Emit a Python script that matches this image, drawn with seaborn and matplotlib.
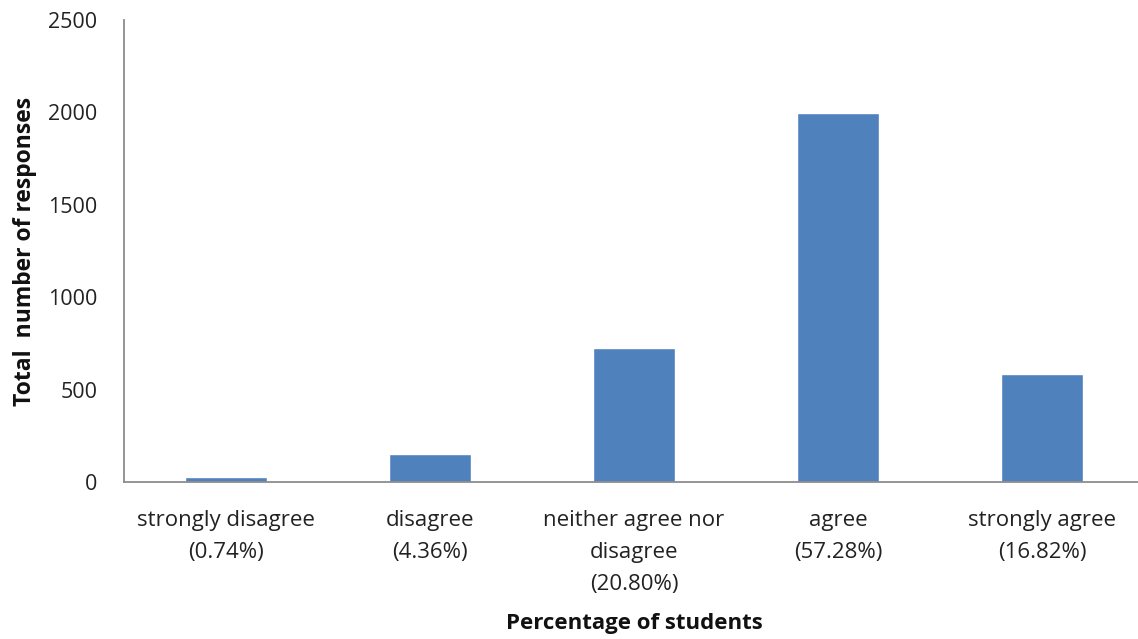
import matplotlib
matplotlib.use("Agg")
import matplotlib.pyplot as plt
import seaborn as sns
import pandas as pd

# Survey responses per answer option
categories = [
    "strongly disagree\n(0.74%)",
    "disagree\n(4.36%)",
    "neither agree nor\ndisagree\n(20.80%)",
    "agree\n(57.28%)",
    "strongly agree\n(16.82%)",
]
responses = [26, 152, 726, 1999, 587]
y_ticks = [0, 500, 1000, 1500, 2000, 2500]

sns.set_theme(style="white")
plt.rcParams["font.family"] = ["Open Sans", "DejaVu Sans"]

df = pd.DataFrame({"category": categories, "responses": responses})

fig = plt.figure(figsize=(11.38, 6.39), dpi=100)
ax = fig.add_axes([124 / 1138, (639 - 482) / 639, (1144 - 124) / 1138, (482 - 20) / 639])

sns.barplot(data=df, x="category", y="responses", color="#4F81BD",
            saturation=1, width=0.40, ax=ax)

ax.set_ylim(0, 2500)
ax.set_xlim(-0.5, 4.5)
ax.set_yticks(y_ticks)
ax.set_yticklabels([str(v) for v in y_ticks], fontsize=15.5, color="#222222")
ax.tick_params(axis="y", length=0, pad=19)
ax.tick_params(axis="x", length=0, pad=20)
for lbl in ax.get_xticklabels():
    lbl.set_fontsize(16)
    lbl.set_color("#222222")
    lbl.set_linespacing(1.68)
    lbl.set_verticalalignment("top")

ax.set_xlabel("Percentage of students", fontsize=16, fontweight="bold",
              color="#111111", labelpad=13)
ax.set_ylabel("Total  number of responses", fontsize=16.5, fontweight="bold",
              color="#111111", labelpad=8)

for side in ["top", "right"]:
    ax.spines[side].set_visible(False)
for side in ["left", "bottom"]:
    ax.spines[side].set_color("#8c8c8c")
    ax.spines[side].set_linewidth(1.3)

fig.savefig("out.png", dpi=100)
